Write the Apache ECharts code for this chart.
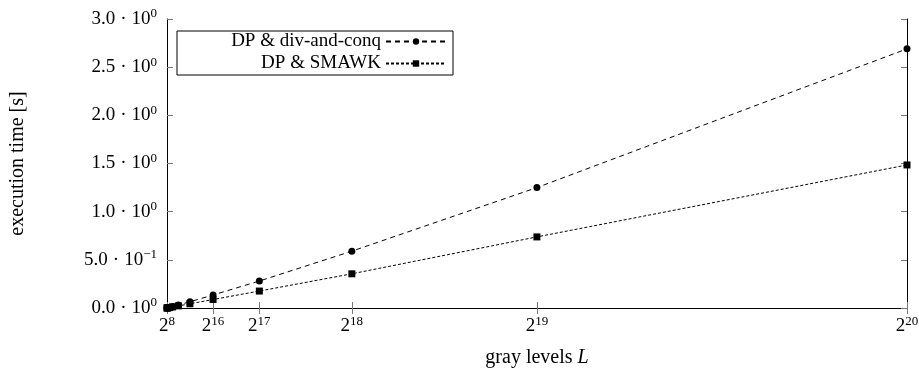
<!DOCTYPE html>
<html>
<head>
<meta charset="utf-8">
<script src="https://cdn.jsdelivr.net/npm/echarts@6/dist/echarts.min.js"></script>
<style>
  html, body { margin: 0; padding: 0; background: #fff; }
  #chart { width: 919px; height: 374px; }
</style>
</head>
<body>
<div id="chart"></div>
<script>
// gray levels L = 2^8 ... 2^20
const exponents = [8, 9, 10, 11, 12, 13, 14, 15, 16, 17, 18, 19, 20]
const divConq = [0.0004, 0.0008, 0.0017, 0.0035, 0.007, 0.015, 0.031, 0.065, 0.135, 0.28, 0.59, 1.25, 2.69]
const smawk = [0.0004, 0.0007, 0.0014, 0.0028, 0.0055, 0.011, 0.022, 0.044, 0.088, 0.176, 0.355, 0.738, 1.485]
const xTickExps = [8, 16, 17, 18, 19, 20]
const yTickLabels = {
  '0': ['0.0', '0'],
  '0.5': ['5.0', '\u22121'],
  '1': ['1.0', '0'],
  '1.5': ['1.5', '0'],
  '2': ['2.0', '0'],
  '2.5': ['2.5', '0'],
  '3': ['3.0', '0']
}

const FONT = '"Liberation Serif", "DejaVu Serif", serif'
const xs = exponents.map(e => Math.pow(2, e))
const xTicks = xTickExps.map(e => Math.pow(2, e))

const rich = {
  m: { fontFamily: FONT, fontSize: 19, color: '#000' },
  d: { fontFamily: FONT, fontSize: 19, color: '#000', padding: [0, 5, 0, 5] },
  s: { fontFamily: FONT, fontSize: 13, color: '#000', padding: [0, 0, 10, 0] }
}

const chart = echarts.init(document.getElementById('chart'))

const xAxisBase = {
  type: 'value',
  min: Math.pow(2, 8),
  max: Math.pow(2, 20),
  splitLine: { show: false },
  axisLine: { lineStyle: { color: '#000', width: 1 } },
  axisTick: { inside: true, length: 6, customValues: xTicks, lineStyle: { color: '#777' } }
}
const yAxisBase = {
  type: 'value',
  min: 0,
  max: 3,
  interval: 0.5,
  splitLine: { show: false },
  axisLine: { show: true, lineStyle: { color: '#000', width: 1 } },
  axisTick: { show: true, inside: true, length: 6, lineStyle: { color: '#777' } }
}

chart.setOption({
  animation: false,
  backgroundColor: '#fff',
  grid: { left: 167, right: 12, top: 19, bottom: 66, containLabel: false, outerBoundsMode: 'none' },
  legend: {
    orient: 'vertical',
    left: 177,
    top: 31,
    align: 'right',
    itemWidth: 60,
    itemHeight: 8,
    itemGap: 3,
    padding: [1, 6, 2, 6],
    backgroundColor: '#fff',
    borderColor: '#000',
    borderWidth: 1,
    borderRadius: 0,
    textStyle: { fontFamily: FONT, fontSize: 19, color: '#000', width: 198, align: 'right', lineHeight: 19 },
    data: ['DP & div-and-conq', 'DP & SMAWK']
  },
  xAxis: [
    Object.assign({}, xAxisBase, {
      position: 'bottom',
      name: '{t|gray levels }{i|L}',
      nameLocation: 'middle',
      nameGap: 40,
      nameTextStyle: {
        rich: {
          t: { fontFamily: FONT, fontSize: 20, color: '#000' },
          i: { fontFamily: FONT, fontSize: 20, fontStyle: 'italic', color: '#000' }
        }
      },
      axisLabel: {
        customValues: xTicks,
        margin: 7,
        formatter: v => '{m|2}{s|' + Math.round(Math.log2(v)) + '}',
        rich: rich
      }
    }),
    Object.assign({}, xAxisBase, {
      position: 'top',
      axisLabel: { show: false, customValues: xTicks }
    })
  ],
  yAxis: [
    Object.assign({}, yAxisBase, {
      position: 'left',
      name: 'execution time [s]',
      nameLocation: 'middle',
      nameRotate: 90,
      nameGap: 139,
      nameTextStyle: { fontFamily: FONT, fontSize: 20, color: '#000' },
      axisLabel: {
        margin: 10,
        formatter: v => {
          const p = yTickLabels[String(v)]
          return p ? '{m|' + p[0] + '}{d|\u00b7}{m|10}{s|' + p[1] + '}' : ''
        },
        rich: rich
      }
    }),
    Object.assign({}, yAxisBase, {
      position: 'right',
      axisLabel: { show: false }
    })
  ],
  series: [
    {
      name: 'DP & div-and-conq',
      type: 'line',
      data: xs.map((x, i) => [x, divConq[i]]),
      symbol: 'circle',
      symbolSize: 7,
      itemStyle: { color: '#000' },
      lineStyle: { color: '#000', width: 1, type: [5, 4] }
    },
    {
      name: 'DP & SMAWK',
      type: 'line',
      data: xs.map((x, i) => [x, smawk[i]]),
      symbol: 'rect',
      symbolSize: 7,
      itemStyle: { color: '#000' },
      lineStyle: { color: '#000', width: 1, type: [3, 2] }
    }
  ]
})
</script>
</body>
</html>
